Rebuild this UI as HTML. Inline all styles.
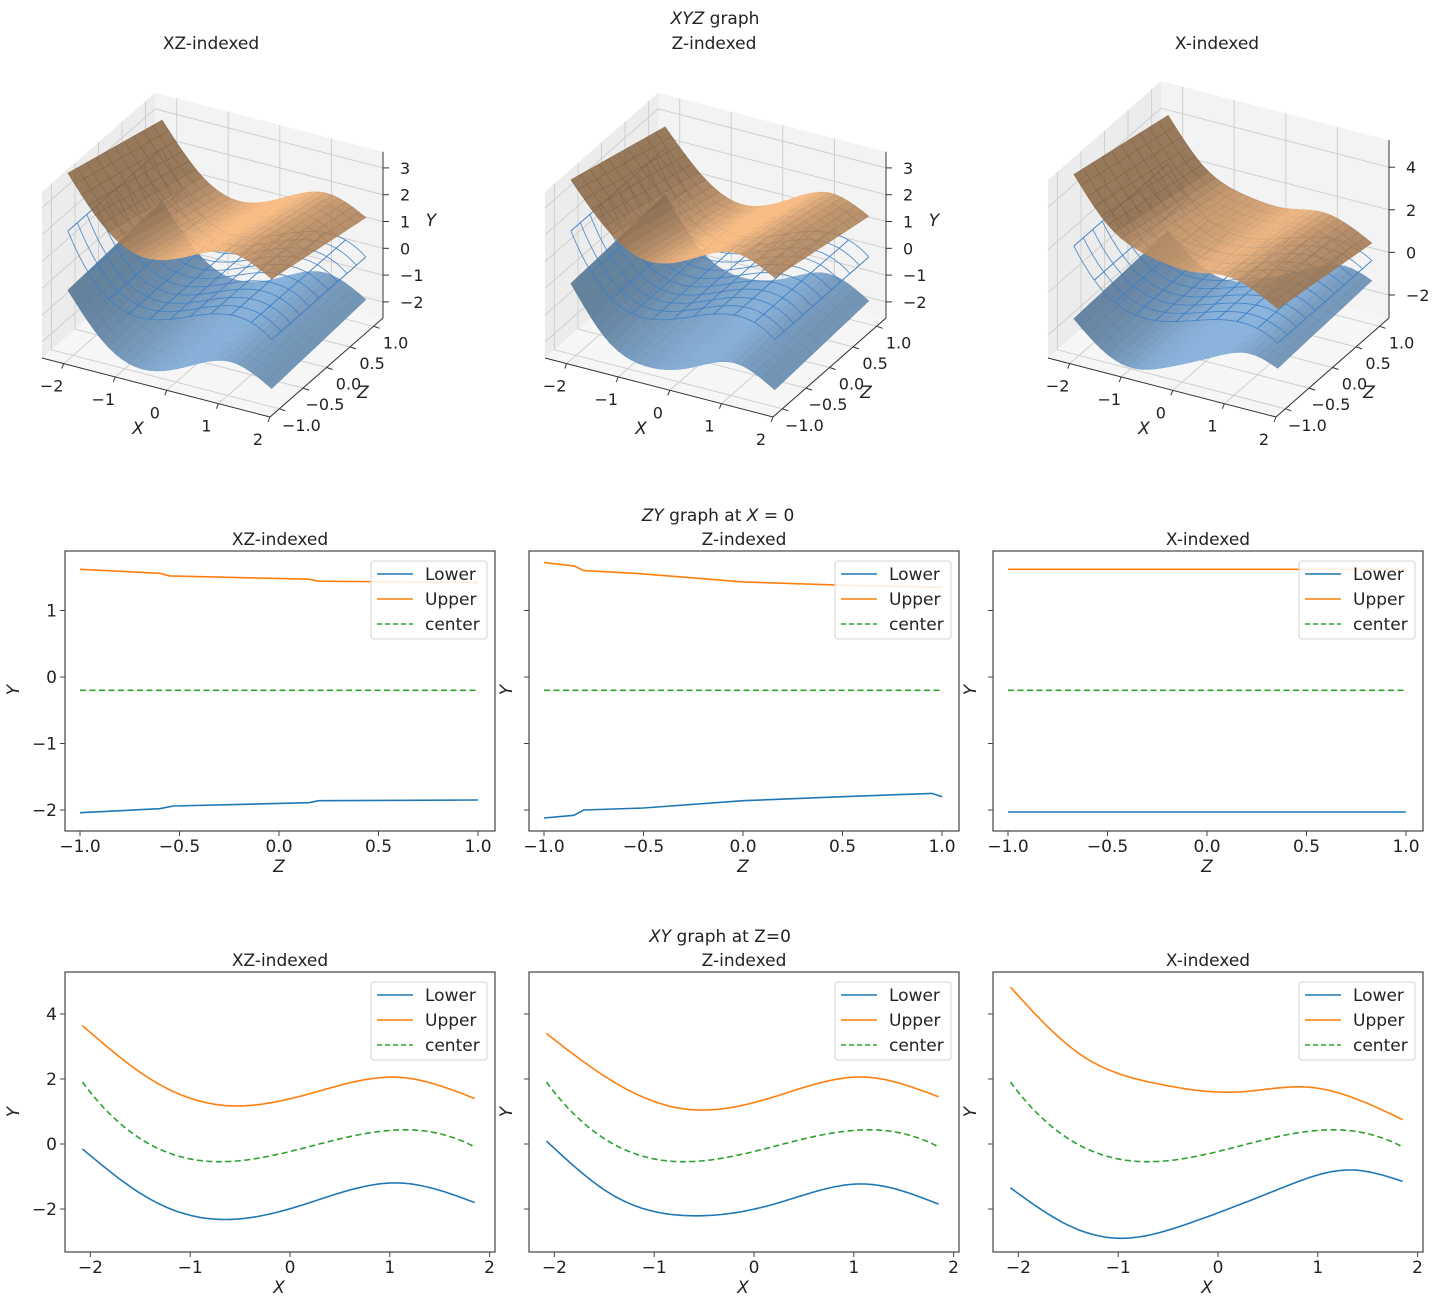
<!DOCTYPE html>
<html><head><meta charset="utf-8">
<style>
body{margin:0;background:#fff;}
svg text{font-family:"DejaVu Sans","Liberation Sans",sans-serif;fill:#222;}
</style></head>
<body>
<div id="root"></div>
<script>
function mkSpline(pts){
  var n=pts.length,x=pts.map(function(p){return p[0];}),y=pts.map(function(p){return p[1];});
  var h=[],i;for(i=0;i<n-1;i++)h.push(x[i+1]-x[i]);
  var a=[],b=[],c=[],d=[];
  for(i=0;i<n;i++){
    if(i==0||i==n-1){a.push(0);b.push(1);c.push(0);d.push(0);}
    else{a.push(h[i-1]);b.push(2*(h[i-1]+h[i]));c.push(h[i]);
      d.push(6*((y[i+1]-y[i])/h[i]-(y[i]-y[i-1])/h[i-1]));}
  }
  for(i=1;i<n;i++){var m=a[i]/b[i-1];b[i]-=m*c[i-1];d[i]-=m*d[i-1];}
  var M=new Array(n);M[n-1]=d[n-1]/b[n-1];
  for(i=n-2;i>=0;i--)M[i]=(d[i]-c[i]*M[i+1])/b[i];
  return function(t){
    var k=0;while(k<n-2&&t>x[k+1])k++;
    var hh=h[k],A=(x[k+1]-t)/hh,B=(t-x[k])/hh;
    return A*y[k]+B*y[k+1]+((A*A*A-A)*M[k]+(B*B*B-B)*M[k+1])*hh*hh/6;
  };
}
function cen(x){return -0.31*(x*x*x-0.675*x*x-2.415*x)-0.23;}
var U=[
 [[-2.1,3.7],[-1.4,2.0],[-0.7,1.2],[0.2,1.55],[1.1,2.05],[1.85,1.4]],
 [[-2.1,3.45],[-1.4,1.9],[-0.7,1.08],[0.2,1.45],[1.1,2.06],[1.85,1.45]],
 [[-2.1,4.9],[-1.4,2.8],[-0.6,1.85],[0.2,1.6],[0.9,1.75],[1.85,0.75]]].map(mkSpline);
var L=[
 [[-2.1,-0.1],[-1.4,-1.7],[-0.8,-2.3],[0.1,-1.9],[1.1,-1.2],[1.85,-1.8]],
 [[-2.1,0.15],[-1.4,-1.6],[-0.7,-2.2],[0.2,-1.85],[1.1,-1.23],[1.85,-1.85]],
 [[-2.1,-1.3],[-1.5,-2.5],[-1.0,-2.9],[-0.3,-2.45],[0.6,-1.4],[1.35,-0.8],[1.85,-1.15]]].map(mkSpline);
var s='<svg xmlns="http://www.w3.org/2000/svg" width="1435" height="1305" viewBox="0 0 1435 1305">';
function T(x,y,str,opt){opt=opt||{};
  s+='<text x="'+x+'" y="'+y+'" font-size="'+(opt.fs||17)+'" text-anchor="'+(opt.a||'middle')+'"'+(opt.it?' font-style="italic"':'')+(opt.tr?' transform="'+opt.tr+'"':'')+'>'+str+'</text>';}
function mi(v){return (v<0?'\u2212'+(-v):''+v);}
function mf(v){return (v<0?'\u2212'+(-v).toFixed(1):v.toFixed(1));}

function panel3d(p){
  var dx=[0,503,1006][p];
  var ymin=p==2?-3.08:-2.6, ymax=p==2?5.27:3.6, ys=p==2?21.3:26.8;
  var X0=-2.42,X1=2.0,Z0=-1.2,Z1=1.2;
  function P(x,z,y){var u=(x-X0)/(X1-X0),v=(z-Z0)/(Z1-Z0);
    return [42+dx+u*228+v*113,358+u*59-v*99-(y-ymin)*ys];}
  function pt(a){return a[0].toFixed(1)+','+a[1].toFixed(1);}
  function poly(pts,fill,extra){s+='<polygon points="'+pts.map(pt).join(' ')+'" fill="'+fill+'" '+(extra||'')+'/>';}
  function line(a,b,st,w){s+='<line x1="'+a[0].toFixed(1)+'" y1="'+a[1].toFixed(1)+'" x2="'+b[0].toFixed(1)+'" y2="'+b[1].toFixed(1)+'" stroke="'+st+'" stroke-width="'+(w||1)+'"/>';}
  poly([P(X0,Z1,ymin),P(X1,Z1,ymin),P(X1,Z1,ymax),P(X0,Z1,ymax)],'#f3f3f3');
  poly([P(X0,Z0,ymin),P(X0,Z1,ymin),P(X0,Z1,ymax),P(X0,Z0,ymax)],'#ececec');
  poly([P(X0,Z0,ymin),P(X1,Z0,ymin),P(X1,Z1,ymin),P(X0,Z1,ymin)],'#f6f6f6');
  var g='#cfcfcf';
  var xt=[-2,-1,0,1,2], zt=[-1,-0.5,0,0.5,1], yt=p==2?[-2,0,2,4]:[-2,-1,0,1,2,3];
  xt.forEach(function(x){line(P(x,Z0,ymin),P(x,Z1,ymin),g);line(P(x,Z1,ymin),P(x,Z1,ymax),g);});
  zt.forEach(function(z){line(P(X0,z,ymin),P(X1,z,ymin),g);line(P(X0,z,ymin),P(X0,z,ymax),g);});
  yt.forEach(function(y){line(P(X0,Z0,y),P(X0,Z1,y),g);line(P(X0,Z1,y),P(X1,Z1,y),g);});
  var N=30,M=10,xa=-2.1,xb=1.85;
  function up(x,z){return U[p](x)-(0.55-0.04*(x+2.1))*z+0.12*(x+2.1)-0.1;}
  function lo(x,z){return L[p](x)+0.12*z;}
  function surf(f,col,alpha,kind){
    var q=[];
    for(var i=0;i<N;i++)for(var j=0;j<M;j++){
      var x1=xa+(xb-xa)*i/N,x2=xa+(xb-xa)*(i+1)/N,z1=-1+2*j/M,z2=-1+2*(j+1)/M;
      var sl=(f(x2,z1)-f(x1,z1))/(x2-x1);
      q.push({d:(z1+z2)/2-(x1+x2)/2*0.5,pts:[P(x1,z1,f(x1,z1)),P(x2,z1,f(x2,z1)),P(x2,z2,f(x2,z2)),P(x1,z2,f(x1,z2))],sl:sl});
    }
    q.sort(function(a,b){return b.d-a.d;});
    q.forEach(function(o){
      var sh;
      if(kind==0) sh=Math.max(0.55,Math.min(1.0,0.86+0.16*o.sl));
      else sh=Math.max(0.7,Math.min(1.0,0.9+0.08*o.sl));
      var c='rgb('+Math.round(col[0]*sh)+','+Math.round(col[1]*sh)+','+Math.round(col[2]*sh)+')';
      poly(o.pts,c,'fill-opacity="'+alpha+'" stroke="'+c+'" stroke-opacity="'+alpha+'" stroke-width="0.6"');
    });
  }
  surf(lo,[135,178,220],0.95,1);
  var wc='#3d7fc4';
  for(var j=0;j<=10;j++){var z=-1+2*j/10,d='';
    for(var i=0;i<=40;i++){var x=xa+(xb-xa)*i/40;var a=P(x,z,cen(x));d+=(i?'L':'M')+pt(a);}
    s+='<path d="'+d+'" fill="none" stroke="'+wc+'" stroke-width="0.9" stroke-opacity="0.85"/>';}
  for(var i=0;i<=10;i++){var x=xa+(xb-xa)*i/10;
    line(P(x,-1,cen(x)),P(x,1,cen(x)),wc,0.9);}
  surf(up,[248,184,124],0.86,0);
  var k='#333';
  line(P(X0,Z0,ymin),P(X1,Z0,ymin),k,1);
  line(P(X1,Z0,ymin),P(X1,Z1,ymin),k,1);
  line(P(X1,Z1,ymin),P(X1,Z1,ymax),k,1);
  xt.forEach(function(x){var a=P(x,Z0,ymin);line(a,[a[0]-2,a[1]+5],k,1);
    T(a[0]-12,a[1]+28,mi(x),{fs:16});});
  zt.forEach(function(z){var a=P(X1,z,ymin);line(a,[a[0]+6,a[1]+2],k,1);
    T(a[0]+22,a[1]+22,mf(z),{fs:16});});
  yt.forEach(function(y){var a=P(X1,Z1,y);line(a,[a[0]+6,a[1]],k,1);
    T(a[0]+17,a[1]+6,mi(y),{fs:16,a:'start'});});
  T(138+dx,434,'X',{fs:17,it:1});
  T(363+dx,398,'Z',{fs:17,it:1});
  if(p<2) T(431+dx,226,'Y',{fs:17,it:1});
}
for(var p=0;p<3;p++) panel3d(p);
T(715,24,'<tspan font-style="italic">XYZ</tspan> graph');
T(211,49,'XZ-indexed');T(714,49,'Z-indexed');T(1217,49,'X-indexed');

var AX=[65,529,993], W=430;
var col={lo:'#1f77b4',up:'#ff7f0e',ce:'#2ca02c'};
function pathFrom(pts){return pts.map(function(a,i){return (i?'L':'M')+a[0].toFixed(1)+','+a[1].toFixed(1);}).join('');}
function legend(x0,y0){
  var lx=x0+W-124, ly=y0+10;
  s+='<rect x="'+lx+'" y="'+ly+'" width="116" height="78" rx="3" fill="#fff" fill-opacity="0.85" stroke="#d5d5d5"/>';
  var it=[['Lower',col.lo,''],['Upper',col.up,''],['center',col.ce,'5,3']];
  it.forEach(function(e,i){var yy=ly+13+i*25;
    s+='<line x1="'+(lx+6)+'" y1="'+yy+'" x2="'+(lx+42)+'" y2="'+yy+'" stroke="'+e[1]+'" stroke-width="1.6"'+(e[2]?' stroke-dasharray="'+e[2]+'"':'')+'/>';
    T(lx+54,yy+6,e[0],{a:'start'});});
}
function ylab(x0,p,yc){var lx=p==0?x0-46:x0-17;
  T(lx,yc,'Y',{it:1,tr:'rotate(-90 '+lx+' '+yc+')'});}
var ZU=[[[-1,1.62],[-0.6,1.56],[-0.55,1.52],[0.15,1.47],[0.2,1.44],[1,1.42]],
        [[-1,1.72],[-0.85,1.67],[-0.8,1.6],[-0.5,1.55],[0,1.43],[0.5,1.38],[1,1.35]],
        [[-1,1.62],[1,1.62]]];
var ZL=[[[-1,-2.04],[-0.6,-1.98],[-0.53,-1.94],[0.15,-1.89],[0.2,-1.86],[1,-1.85]],
        [[-1,-2.12],[-0.85,-2.08],[-0.8,-2.0],[-0.5,-1.97],[0,-1.86],[0.5,-1.8],[0.95,-1.75],[1,-1.8]],
        [[-1,-2.03],[1,-2.03]]];
var ttl=['XZ-indexed','Z-indexed','X-indexed'];
for(var p=0;p<3;p++){
  var x0=AX[p],y0=551,H=280;
  var fx=function(z){return x0+214+199*z;}, fy=function(y){return 677-66.5*y;};
  [ZL[p],ZU[p]].forEach(function(d,i){
    s+='<path d="'+pathFrom(d.map(function(a){return [fx(a[0]),fy(a[1])];}))+'" fill="none" stroke="'+(i?col.up:col.lo)+'" stroke-width="1.6"/>';});
  s+='<line x1="'+fx(-1)+'" y1="'+fy(-0.2)+'" x2="'+fx(1)+'" y2="'+fy(-0.2)+'" stroke="'+col.ce+'" stroke-width="1.6" stroke-dasharray="6,3.5"/>';
  legend(x0,y0);
  s+='<rect x="'+x0+'" y="'+y0+'" width="'+W+'" height="'+H+'" fill="none" stroke="#444" stroke-width="1.2"/>';
  [-1,-0.5,0,0.5,1].forEach(function(z){var xx=fx(z);s+='<line x1="'+xx+'" y1="'+(y0+H)+'" x2="'+xx+'" y2="'+(y0+H+5)+'" stroke="#444"/>';T(xx,y0+H+21,mf(z));});
  [1,0,-1,-2].forEach(function(y){var yy=fy(y);s+='<line x1="'+(x0-5)+'" y1="'+yy+'" x2="'+x0+'" y2="'+yy+'" stroke="#444"/>';if(p==0)T(x0-8,yy+6,mi(y),{a:'end'});});
  T(x0+214,y0+H+41,'Z',{it:1});
  ylab(x0,p,690);
  T(x0+215,545,ttl[p]);
}
T(718,521,'<tspan font-style="italic">ZY</tspan> graph at <tspan font-style="italic">X</tspan> = 0');
for(var p=0;p<3;p++){
  var x0=AX[p],y0=972,H=280;
  var gx=function(x){return x0+225+99.8*x;}, gy=function(y){return 1144-32.5*y;};
  [L[p],U[p]].forEach(function(f,i){var d=[];for(var k=0;k<=150;k++){var x=-2.08+3.93*k/150;d.push([gx(x),gy(f(x))]);}
    s+='<path d="'+pathFrom(d)+'" fill="none" stroke="'+(i?col.up:col.lo)+'" stroke-width="1.6"/>';});
  var d=[];for(var k=0;k<=150;k++){var x=-2.08+3.93*k/150;d.push([gx(x),gy(cen(x))]);}
  s+='<path d="'+pathFrom(d)+'" fill="none" stroke="'+col.ce+'" stroke-width="1.6" stroke-dasharray="6,3.5"/>';
  legend(x0,y0);
  s+='<rect x="'+x0+'" y="'+y0+'" width="'+W+'" height="'+H+'" fill="none" stroke="#444" stroke-width="1.2"/>';
  [-2,-1,0,1,2].forEach(function(x){var xx=gx(x);s+='<line x1="'+xx+'" y1="'+(y0+H)+'" x2="'+xx+'" y2="'+(y0+H+5)+'" stroke="#444"/>';T(xx,y0+H+21,mi(x));});
  [4,2,0,-2].forEach(function(y){var yy=gy(y);s+='<line x1="'+(x0-5)+'" y1="'+yy+'" x2="'+x0+'" y2="'+yy+'" stroke="#444"/>';if(p==0)T(x0-8,yy+6,mi(y),{a:'end'});});
  T(x0+214,y0+H+41,'X',{it:1});
  ylab(x0,p,1112);
  T(x0+215,966,ttl[p]);
}
T(720,942,'<tspan font-style="italic">XY</tspan> graph at Z=0');
s+='</svg>';
document.getElementById('root').innerHTML=s;
</script>
</body></html>
